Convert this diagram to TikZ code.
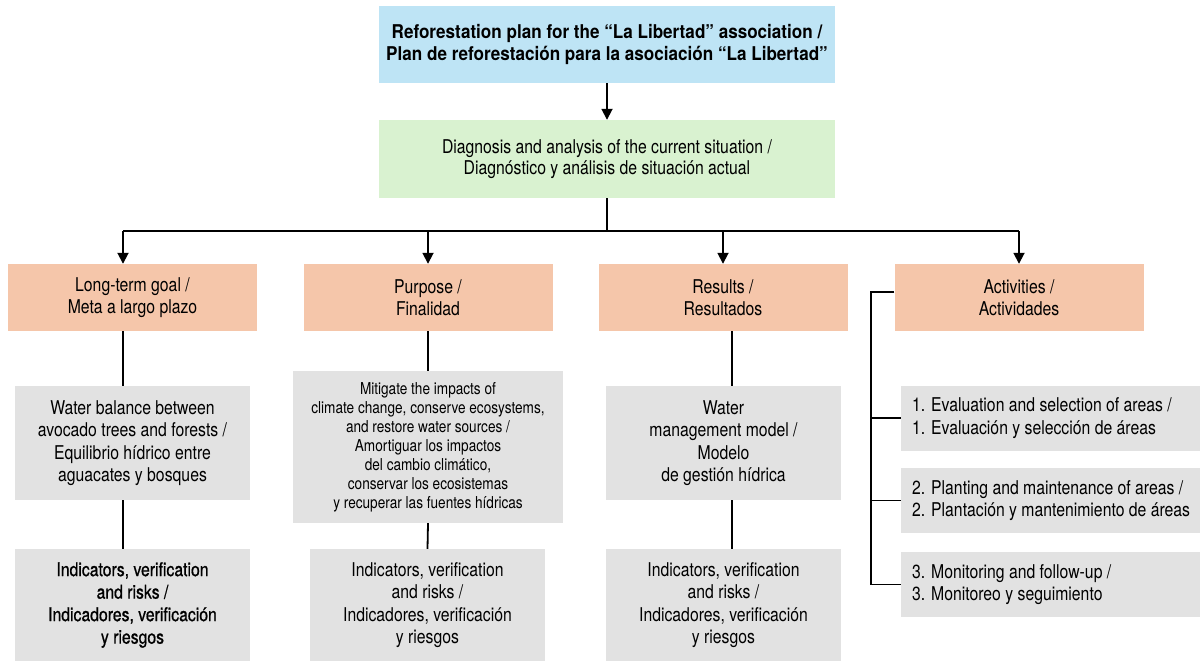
\documentclass[tikz,border=0pt]{standalone}
\usepackage{fontspec}
\setmainfont{TeX Gyre Heros}[FakeStretch=0.83]
\newfontfamily\medfont{TeX Gyre Heros}[FakeStretch=0.83,FakeBold=0.8]
\newfontfamily\headfont{TeX Gyre Heros}[FakeStretch=0.9]
\usetikzlibrary{arrows.meta}
\definecolor{planblue}{RGB}{190,228,245}
\definecolor{diaggreen}{RGB}{217,242,208}
\definecolor{stageorange}{RGB}{245,198,170}
\definecolor{itemgray}{RGB}{226,226,226}

\begin{document}
\begin{tikzpicture}[x=1pt,y=-1pt,
    box/.style={inner sep=0pt, align=center, font=\fontsize{19}{22.5}\selectfont},
    planbox/.style={box, fill=planblue, minimum width=456, minimum height=77,
      font=\fontsize{19}{22}\headfont\bfseries},
    diagbox/.style={box, fill=diaggreen, minimum width=456, minimum height=78,
      font=\fontsize{19}{21.5}\selectfont},
    stagebox/.style={box, fill=stageorange, minimum width=249, minimum height=67},
    itembox/.style={box, fill=itemgray},
    stepbox/.style={itembox, anchor=west, minimum height=65, text width=288,
      inner xsep=11pt, align=flush left},
    link/.style={line width=1.8pt, black},
    arr/.style={link, -{Triangle[length=11pt,width=11pt]}}]
  \useasboundingbox (0,0) rectangle (1200,661);

  % top of the plan
  \node[planbox] (plan) at (607,44.5)
    {Reforestation plan for the “La Libertad” association /\\
     Plan de reforestación para la asociación “La Libertad”};
  \node[diagbox] (diag) at (607,159)
    {Diagnosis and analysis of the current situation /\\
     Diagnóstico y análisis de situación actual};
  \draw[arr] (plan.south) -- (diag.north);

  % the four stages
  \node[stagebox] (goal) at (132.5,297.5) {Long-term goal /\\ Meta a largo plazo};
  \node[stagebox] (purp) at (428,297.5) {Purpose /\\ Finalidad};
  \node[stagebox] (res)  at (723,297.5) {Results /\\ Resultados};
  \node[stagebox] (act)  at (1019,297.5) {Activities /\\ Actividades};

  \draw[link] (diag.south) -- ++(0,33) coordinate (fork);
  \coordinate (goaltop) at ([xshift=-9.5]goal.north);
  \draw[link] (goaltop |- fork) -- (act.north |- fork);
  \draw[arr] (goaltop |- fork) -- (goaltop);
  \foreach \n in {purp,res,act}
    \draw[arr] (\n.north |- fork) -- (\n.north);

  % Long-term goal column
  \node[itembox, minimum width=235, minimum height=114] (goalmid) at (132.5,443)
    {Water balance between\\ avocado trees and forests /\\
     Equilibrio hídrico entre\\ aguacates y bosques};
  \node[itembox, minimum width=235, minimum height=112, font=\fontsize{19}{22.5}\medfont] (goalind) at (132.5,605)
    {Indicators, verification\\ and risks /\\ Indicadores, verificación\\ y riesgos};
  \draw[link] (goaltop |- goal.south) -- (goaltop |- goalmid.north);
  \draw[link] (goaltop |- goalmid.south) -- (goaltop |- goalind.north);

  % Purpose column
  \node[itembox, minimum width=270, minimum height=152, font=\fontsize{16.4}{19}\selectfont] (purpmid) at (428,447)
    {Mitigate the impacts of\\ climate change, conserve ecosystems,\\
     and restore water sources /\\ Amortiguar los impactos\\
     del cambio climático,\\ conservar los ecosistemas\\
     y recuperar las fuentes hídricas};
  \node[itembox, minimum width=235, minimum height=112] (purpind) at (427.5,605)
    {Indicators, verification\\ and risks /\\ Indicadores, verificación\\ y riesgos};
  \draw[link] (purp.south) -- (purpmid.north);
  \draw[link] (purpmid.south) -- (purpind.north);

  % Results column
  \node[itembox, minimum width=235, minimum height=114] (resmid) at (723.5,443)
    {Water\\ management model /\\ Modelo\\ de gestión hídrica};
  \node[itembox, minimum width=235, minimum height=112] (resind) at (723.5,605)
    {Indicators, verification\\ and risks /\\ Indicadores, verificación\\ y riesgos};
  \coordinate (reslink) at ([xshift=9]res.south);
  \draw[link] (reslink) -- (reslink |- resmid.north);
  \draw[link] (reslink |- resmid.south) -- (reslink |- resind.north);

  % Activities list
  \node[stepbox] (step1) at (901,418)
    {1. Evaluation and selection of areas /\\ 1. Evaluación y selección de áreas};
  \node[stepbox] (step2) at (901,500.5)
    {2. Planting and maintenance of areas /\\ 2. Plantación y mantenimiento de áreas};
  \node[stepbox] (step3) at (901,584.5)
    {3. Monitoring and follow-up /\\ 3. Monitoreo y seguimiento};
  \coordinate (rail) at (871,292);
  \draw[link] ([yshift=5.5]act.west) -- (rail) -- (rail |- step3.west) -- (step3.west);
  \draw[link] (rail |- step1.west) -- (step1.west);
  \draw[link] (rail |- step2.west) -- (step2.west);
\end{tikzpicture}
\end{document}
